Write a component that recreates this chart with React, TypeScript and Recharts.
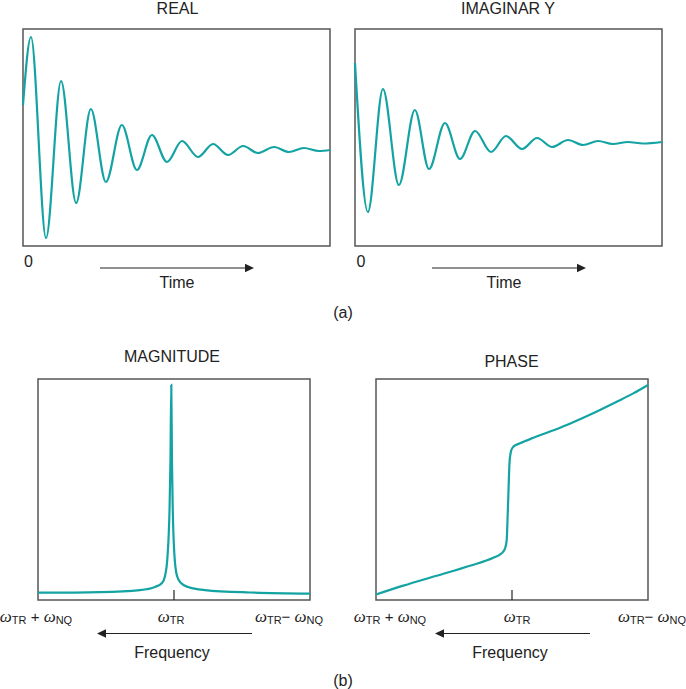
import React from "react";
import {
  LineChart,
  Line,
  XAxis,
  YAxis,
  ReferenceArea,
  ReferenceLine,
} from "recharts";

// (a) time domain signals, time 0..100, amplitude around a zero baseline
const realTime = [0, 2.6, 7.5, 12.4, 17.3, 22.1, 27.0, 32.2, 37.1, 42.0, 46.9, 51.8, 57.0, 61.9, 66.8, 71.7, 76.5, 81.8, 86.6, 91.5, 96.4, 100];
const realValue = [0.445, 1.125, -0.885, 0.685, -0.535, 0.405, -0.325, 0.245, -0.205, 0.145, -0.125, 0.085, -0.075, 0.055, -0.055, 0.035, -0.035, 0.025, -0.025, 0.015, -0.015, -0.005];

const imagTime = [0, 4.2, 9.1, 14.3, 19.5, 24.1, 29.3, 34.2, 39.1, 44.3, 49.2, 54.4, 59.3, 64.2, 69.4, 74.3, 79.2, 84.0, 88.9, 93.8, 100];
const imagValue = [0.8, -0.69, 0.54, -0.42, 0.33, -0.26, 0.2, -0.16, 0.12, -0.09, 0.07, -0.06, 0.05, -0.04, 0.03, -0.02, 0.02, -0.01, 0.01, -0.005, 0.01];

// (b) frequency domain, offset from wTR (-1 .. 1), normalised height 0..1
const magFreq = [-1, -0.544, -0.25, -0.14, -0.088, -0.066, -0.048, -0.033, -0.026, -0.02, -0.015, -0.009, 0.004, 0.022, 0.051, 0.103, 0.228, 0.559, 1];
const magValue = [0.033, 0.036, 0.045, 0.059, 0.077, 0.109, 0.195, 0.407, 0.633, 0.973, 0.633, 0.407, 0.195, 0.109, 0.077, 0.059, 0.045, 0.034, 0.029];

const phaseFreq = [-1, -0.799, -0.554, -0.309, -0.1375, -0.076, -0.051, -0.039, -0.033, -0.028, -0.018, -0.007, 0.01, 0.059, 0.157, 0.279, 0.402, 0.524, 0.647, 0.77, 0.892, 1];
const phaseValue = [0.025, 0.065, 0.11, 0.155, 0.191, 0.211, 0.234, 0.271, 0.362, 0.452, 0.624, 0.674, 0.694, 0.709, 0.734, 0.762, 0.792, 0.825, 0.86, 0.897, 0.935, 0.973];

const TEAL = "#14a3a3";
const FRAME = "#555";
const INK = "#222";
const SANS = "'Liberation Sans', Arial, sans-serif";
const SERIF = "'Liberation Serif', 'Times New Roman', serif";

interface Point {
  x: number;
  y: number;
}

function toPoints(xs: number[], ys: number[]): Point[] {
  return xs.map((x, i) => ({ x, y: ys[i] }));
}

interface PanelProps {
  left: number;
  top: number;
  width: number;
  height: number;
  data: Point[];
  xDomain: [number, number];
  yDomain: [number, number];
  tickAt?: number;
  tickTop?: number;
}

function Panel({
  left,
  top,
  width,
  height,
  data,
  xDomain,
  yDomain,
  tickAt,
  tickTop,
}: PanelProps) {
  const pad = 6;
  return (
    <div style={{ position: "absolute", left: left - pad, top: top - pad }}>
      <LineChart
        width={width + 2 * pad}
        height={height + 2 * pad}
        data={data}
        margin={{ top: pad, right: pad, bottom: pad, left: pad }}
      >
        <XAxis type="number" dataKey="x" domain={xDomain} hide />
        <YAxis type="number" domain={yDomain} hide />
        <ReferenceArea
          x1={xDomain[0]}
          x2={xDomain[1]}
          y1={yDomain[0]}
          y2={yDomain[1]}
          fill="none"
          fillOpacity={0}
          stroke={FRAME}
          strokeWidth={1.5}
        />
        {tickAt !== undefined && tickTop !== undefined && (
          <ReferenceLine
            segment={[
              { x: tickAt, y: yDomain[0] },
              { x: tickAt, y: tickTop },
            ]}
            stroke={INK}
            strokeWidth={1.2}
          />
        )}
        <Line
          type="monotone"
          dataKey="y"
          stroke={TEAL}
          strokeWidth={2.2}
          dot={false}
          isAnimationActive={false}
        />
      </LineChart>
    </div>
  );
}

function Omega({ x, y, sign }: { x: number; y: number; sign: string }) {
  return (
    <text x={x} y={y} textAnchor="middle" fill={INK}>
      <tspan fontFamily={SERIF} fontStyle="italic" fontSize={17}>ω</tspan>
      <tspan fontFamily={SANS} fontSize={11} dy={2}>TR</tspan>
      <tspan fontFamily={SANS} fontSize={15} dy={-2}>
        {sign === "+" ? " + " : "− "}
      </tspan>
      <tspan fontFamily={SERIF} fontStyle="italic" fontSize={17}>ω</tspan>
      <tspan fontFamily={SANS} fontSize={11} dy={2}>NQ</tspan>
    </text>
  );
}

function OmegaTR({ x, y }: { x: number; y: number }) {
  return (
    <text x={x} y={y} textAnchor="middle" fill={INK}>
      <tspan fontFamily={SERIF} fontStyle="italic" fontSize={17}>ω</tspan>
      <tspan fontFamily={SANS} fontSize={11} dy={2}>TR</tspan>
    </text>
  );
}

function Arrow({ x1, x2, y }: { x1: number; x2: number; y: number }) {
  const dir = x2 > x1 ? 1 : -1;
  const base = x2 - dir * 9;
  return (
    <g>
      <line x1={x1} y1={y} x2={base} y2={y} stroke={INK} strokeWidth={1.2} />
      <polygon points={`${x2},${y} ${base},${y - 4.3} ${base},${y + 4.3}`} fill={INK} />
    </g>
  );
}

export default function App() {
  const label = { fontFamily: SANS, fontSize: 16, fill: INK, textAnchor: "middle" as const };
  return (
    <div style={{ position: "absolute", left: 0, top: 0, width: 686, height: 689, background: "#fff" }}>
      <Panel
        left={23}
        top={29}
        width={307}
        height={217}
        data={toPoints(realTime, realValue)}
        xDomain={[0, 100]}
        yDomain={[-0.965, 1.205]}
      />
      <Panel
        left={355}
        top={29}
        width={307}
        height={217}
        data={toPoints(imagTime, imagValue)}
        xDomain={[0, 100]}
        yDomain={[-1.03, 1.14]}
      />
      <Panel
        left={38}
        top={379}
        width={272}
        height={221}
        data={toPoints(magFreq, magValue)}
        xDomain={[-1, 1]}
        yDomain={[0, 1]}
        tickAt={0}
        tickTop={0.045}
      />
      <Panel
        left={376}
        top={379}
        width={272}
        height={221}
        data={toPoints(phaseFreq, phaseValue)}
        xDomain={[-1, 1]}
        yDomain={[0, 1]}
        tickAt={0}
        tickTop={0.045}
      />
      <svg
        width={686}
        height={689}
        style={{ position: "absolute", left: 0, top: 0, pointerEvents: "none" }}
      >
        <text x={177.5} y={14} {...label}>REAL</text>
        <text x={508} y={14} {...label}>IMAGINAR Y</text>
        <text x={28.5} y={267} {...label}>0</text>
        <text x={361} y={267} {...label}>0</text>
        <Arrow x1={100} x2={254} y={268} />
        <Arrow x1={432} x2={586} y={268} />
        <text x={177} y={288} {...label}>Time</text>
        <text x={504} y={288} {...label}>Time</text>
        <text x={343} y={318} {...label}>(a)</text>

        <text x={172} y={362} {...label}>MAGNITUDE</text>
        <text x={511.5} y={366.5} {...label}>PHASE</text>
        <Omega x={36} y={622} sign="+" />
        <OmegaTR x={171} y={622} />
        <Omega x={289} y={622} sign="-" />
        <Omega x={390} y={622} sign="+" />
        <OmegaTR x={517} y={622} />
        <Omega x={652} y={622} sign="-" />
        <Arrow x1={252} x2={97} y={633.5} />
        <Arrow x1={590} x2={435} y={633.5} />
        <text x={172} y={658} {...label}>Frequency</text>
        <text x={510} y={658} {...label}>Frequency</text>
        <text x={343} y={686} {...label}>(b)</text>
      </svg>
    </div>
  );
}
